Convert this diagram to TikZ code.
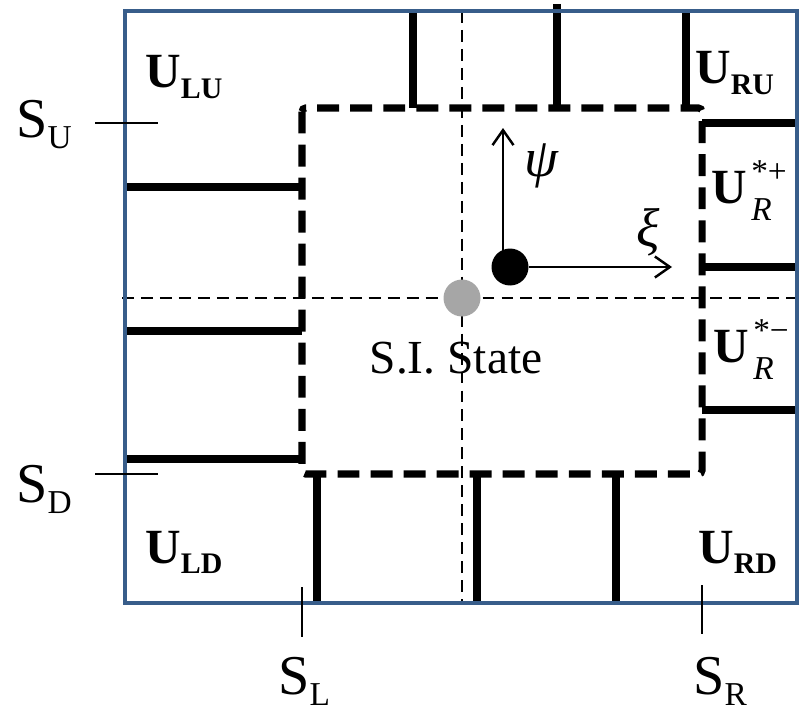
\documentclass[tikz,border=0pt]{standalone}
\usepackage{fontspec}
\setmainfont{Liberation Serif}
\usetikzlibrary{arrows.meta}

\definecolor{frameblue}{RGB}{56,93,138}
\definecolor{dotgray}{RGB}{166,166,166}
\newcommand{\slab}[2]{#1\raisebox{-6.3pt}{\fontsize{19}{19}\selectfont #2}}
\newcommand{\ulab}[1]{\textbf{U\raisebox{-5.7pt}{\fontsize{17}{17}\selectfont #1}}}
\newcommand{\urlab}[1]{\textbf{U}\kern2.5pt\rlap{\raisebox{11.4pt}{\fontsize{19}{19}\selectfont *#1}}\raisebox{-9.7pt}{\fontsize{19}{19}\selectfont\itshape R}}

\begin{document}
\begin{tikzpicture}[x=0.02cm, y=-0.02cm,
    wall/.style={line width=4pt},
    region/.style={line width=4pt, dash pattern=on 12.5pt off 6.3pt, rounded corners=2pt},
    axisline/.style={line width=1pt, dash pattern=on 6.8pt off 4pt},
    tickline/.style={line width=1.4pt},
    vec/.style={line width=1.4pt, -{Straight Barb[length=3mm,width=4.2mm]}},
    slbl/.style={anchor=base west, inner sep=0pt, font=\fontsize{32}{38}\selectfont},
    ulbl/.style={anchor=base west, inner sep=0pt, font=\fontsize{28}{34}\selectfont},
    greek/.style={inner sep=0pt, font=\fontsize{31}{36}\selectfont\itshape},
    dot/.style={circle, inner sep=0pt, minimum size=0.74cm}
]
\useasboundingbox (0,0) rectangle (800,713);

% symmetry axes
\draw[axisline] (122,298) -- (797,298);
\draw[axisline] (462,11) -- (462,603);

% walls and domain
\foreach \x/\ya in {413/11, 557/4, 686/11} \draw[wall] (\x,\ya) -- (\x,108);
\foreach \y in {187,331,459} \draw[wall] (125,\y) -- (302,\y);
\foreach \y in {123,267,410} \draw[wall] (702,\y) -- (797,\y);
\foreach \x in {317,477,616} \draw[wall] (\x,474) -- (\x,603);
\draw[region] (302,108) rectangle (702,474);
\draw[frameblue, line width=2.2pt] (125,11) rectangle (797,603);

% sonic lines
\draw[tickline] (95,123) -- (158,123);
\draw[tickline] (95,474) -- (158,474);
\draw[tickline] (302,587) -- (302,637);
\draw[tickline] (702,585) -- (702,634);

\node[slbl] (SU) at (16,137) {\slab{S}{U}};
\node[slbl] (SD) at (16,502) {\slab{S}{D}};
\node[slbl] (SL) at (278,694) {\slab{S}{L}};
\node[slbl] (SR) at (693,694) {\slab{S}{R}};

\node[ulbl] (ULU) at (145,88) {\ulab{LU}};
\node[ulbl] (URU) at (695,84) {\ulab{RU}};
\node[ulbl] (ULD) at (145,563) {\ulab{LD}};
\node[ulbl] (URD) at (698,563) {\ulab{RD}};
\node[ulbl] (URp) at (711,203) {\urlab{+}};
\node[ulbl] (URm) at (713,362) {\urlab{−}};

% self-similar state and frame
\node[dot, fill=dotgray] (sidot) at (462,298) {};
\node[ulbl, anchor=base, font=\fontsize{27}{32}\selectfont] (state) at (456,373) {S.I. State};

\node[dot, fill=black] (orig) at (510,267) {};
\coordinate (psitip) at (503,128);
\coordinate (xitip) at (672,267);
\draw[vec] (orig.center -| psitip) -- (psitip);
\draw[vec] (orig) -- (xitip);
\node[greek] (psi) at (541,166) {ψ};
\node[greek] (xi) at (648,232) {ξ};
\end{tikzpicture}
\end{document}
